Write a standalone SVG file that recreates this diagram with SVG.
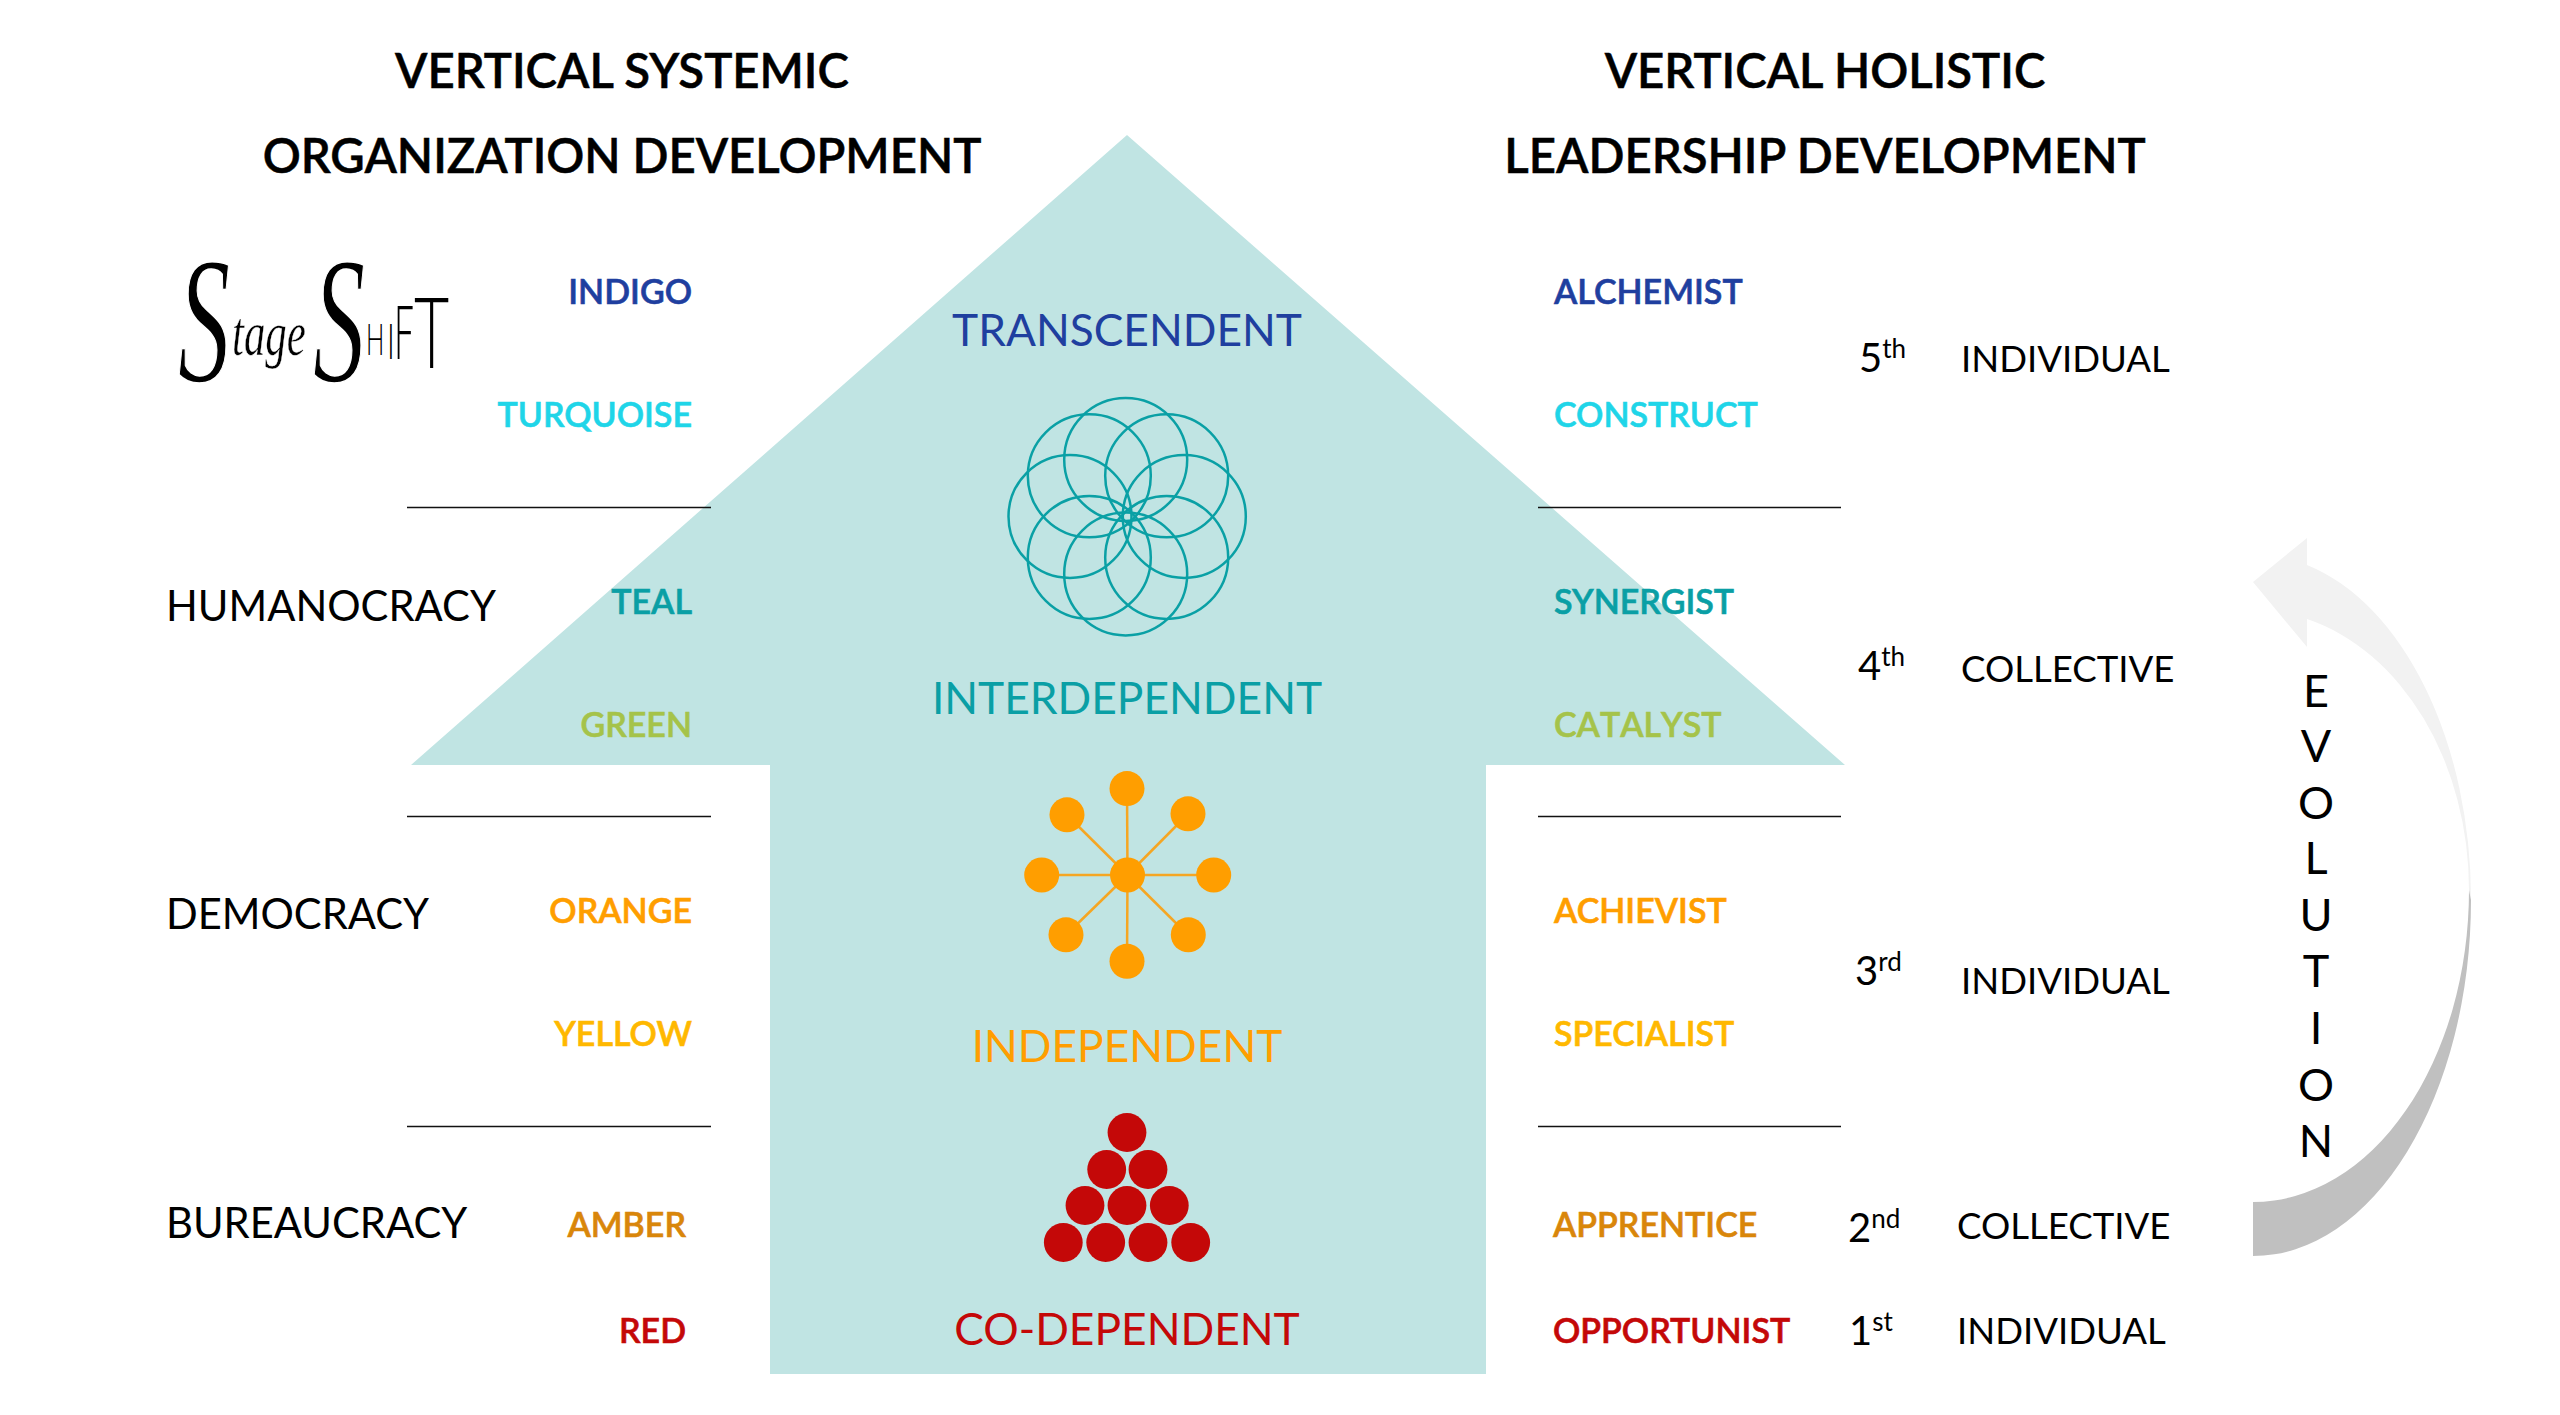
<svg xmlns="http://www.w3.org/2000/svg" width="2560" height="1415" viewBox="0 0 2560 1415">
<style>
text{font-family:Lato,"Liberation Sans",sans-serif}
.t{font-size:47.3px;font-weight:600;fill:#000;stroke:#000;stroke-width:.5px;text-anchor:middle}
.c{font-size:44.3px;text-anchor:middle;stroke-width:0}
.l{font-size:34px;font-weight:600;text-anchor:end;stroke-width:.6px}
.r{font-size:34px;font-weight:600;stroke-width:.6px}
.o{font-size:41.7px;fill:#000}
.k{font-size:36.6px;fill:#000}
.n{font-size:40px;fill:#000}
.n tspan{font-size:26px}
.e{font-size:45px;fill:#000;text-anchor:middle}
.i{fill:#1f3f9f;stroke:#1f3f9f}.u{fill:#1fd5e8;stroke:#1fd5e8}.a{fill:#0a9fa5;stroke:#0a9fa5}.g{fill:#a5c34a;stroke:#a5c34a}.y{fill:#ff9e00;stroke:#ff9e00}.w{fill:#ffb800;stroke:#ffb800}.m{fill:#d9860a;stroke:#d9860a}.d{fill:#c40808;stroke:#c40808}
.rule{stroke:#111;stroke-width:1.5}
.fl circle{fill:none;stroke:#0aa0a5;stroke-width:2.5}
.st line{stroke:#f5a623;stroke-width:2.5}
.st circle{fill:#ff9e00;stroke:none}
.tr circle{fill:#c40808;r:19.4px}
.sw{font-family:"Liberation Serif",serif;font-style:italic;stroke:#fff;stroke-width:1.6px}
.th{font-weight:300;fill:#000}
</style>
<rect width="2560" height="1415" fill="#fff"/>
<g id="house"><polygon points="1127,135 1845,765 1486,765 1486,1374 770,1374 770,765 411,765" fill="#c0e4e3"/></g>
<g id="connectors">
<line class="rule" x1="407" y1="507.5" x2="711" y2="507.5"/><line class="rule" x1="407" y1="816.5" x2="711" y2="816.5"/><line class="rule" x1="407" y1="1126.5" x2="711" y2="1126.5"/>
<line class="rule" x1="1538" y1="507.5" x2="1841" y2="507.5"/><line class="rule" x1="1538" y1="816.5" x2="1841" y2="816.5"/><line class="rule" x1="1538" y1="1126.5" x2="1841" y2="1126.5"/>
</g>
<g id="titles">
<text class="t" x="622" y="88">VERTICAL SYSTEMIC</text><text class="t" x="622" y="173">ORGANIZATION DEVELOPMENT</text>
<text class="t" x="1825" y="88">VERTICAL HOLISTIC</text><text class="t" x="1825" y="173">LEADERSHIP DEVELOPMENT</text>
</g>
<g id="logo">
<text class="sw" transform="translate(178,381) scale(.58,1)" font-size="180">S</text>
<text class="sw" style="stroke-width:.5px" transform="translate(232,355) scale(.67,1)" font-size="64">tage</text>
<text class="sw" transform="translate(313,381) scale(.58,1)" font-size="180">S</text>
<text class="th" transform="translate(366,355) scale(.55,1)" font-size="44">H</text>
<text class="th" transform="translate(387,359) scale(.6,1)" font-size="50">I</text>
<text class="th" transform="translate(394,359) scale(.47,1)" font-size="75">F</text>
<text class="th" transform="translate(414,368) scale(.62,1)" font-size="98">T</text>
</g>
<g id="left-labels">
<text class="l i" x="692" y="304">INDIGO</text><text class="l u" x="692" y="427">TURQUOISE</text>
<text class="l a" x="692" y="614">TEAL</text><text class="l g" x="692" y="737">GREEN</text>
<text class="l y" x="692" y="923">ORANGE</text><text class="l w" x="692" y="1045.5">YELLOW</text>
<text class="l m" x="686" y="1237">AMBER</text><text class="l d" x="686" y="1343">RED</text>
</g>
<g id="org-types">
<text class="o" x="166" y="621">HUMANOCRACY</text><text class="o" x="166" y="929">DEMOCRACY</text><text class="o" x="166" y="1238">BUREAUCRACY</text>
</g>
<g id="center-labels">
<text class="c i" x="1127" y="346">TRANSCENDENT</text>
<text class="c a" x="1127" y="714">INTERDEPENDENT</text>
<text class="c y" x="1127" y="1061.5">INDEPENDENT</text>
<text class="c d" x="1127" y="1345">CO-DEPENDENT</text>
</g>
<g id="flower" class="fl">
<circle cx="1125.7" cy="459.5" r="61.5"/><circle cx="1125.7" cy="574" r="61.5"/><circle cx="1070" cy="516.5" r="61.5"/><circle cx="1184.3" cy="516.5" r="61.5"/>
<circle cx="1089.3" cy="475.8" r="61.5"/><circle cx="1166.7" cy="475.8" r="61.5"/><circle cx="1089.3" cy="557.5" r="61.5"/><circle cx="1166.7" cy="557.5" r="61.5"/>
</g>
<g id="star" class="st">
<line x1="1127.5" y1="875" x2="1127" y2="789"/><line x1="1127.5" y1="875" x2="1214" y2="875"/><line x1="1127.5" y1="875" x2="1042" y2="875"/><line x1="1127.5" y1="875" x2="1127" y2="961"/>
<line x1="1127.5" y1="875" x2="1067" y2="815"/><line x1="1127.5" y1="875" x2="1188" y2="814"/><line x1="1127.5" y1="875" x2="1066" y2="935"/><line x1="1127.5" y1="875" x2="1188" y2="935"/>
<circle cx="1127.5" cy="875" r="17.5"/><circle cx="1127" cy="788.6" r="17.5"/><circle cx="1213.7" cy="875" r="17.5"/><circle cx="1041.7" cy="875" r="17.5"/><circle cx="1127" cy="961.3" r="17.5"/>
<circle cx="1067" cy="814.8" r="17.5"/><circle cx="1188" cy="813.8" r="17.5"/><circle cx="1066" cy="934.8" r="17.5"/><circle cx="1188.3" cy="934.8" r="17.5"/>
</g>
<g id="triangle" class="tr">
<circle cx="1127" cy="1132.5"/><circle cx="1106.7" cy="1169.5"/><circle cx="1148" cy="1169.5"/>
<circle cx="1085" cy="1205.5"/><circle cx="1127" cy="1205.5"/><circle cx="1169.3" cy="1205.5"/>
<circle cx="1063.3" cy="1242.5"/><circle cx="1105.7" cy="1242.5"/><circle cx="1148" cy="1242.5"/><circle cx="1190.7" cy="1242.5"/>
</g>
<g id="right-labels">
<text class="r i" x="1554" y="304">ALCHEMIST</text><text class="r u" x="1554" y="427">CONSTRUCT</text>
<text class="r a" x="1554" y="614">SYNERGIST</text><text class="r g" x="1554" y="737" style="font-kerning:none">CATALYST</text>
<text class="r y" x="1554" y="923">ACHIEVIST</text><text class="r w" x="1554" y="1045.5">SPECIALIST</text>
<text class="r m" x="1553" y="1237">APPRENTICE</text><text class="r d" x="1553" y="1343">OPPORTUNIST</text>
</g>
<g id="stages">
<text class="n" x="1859" y="372">5<tspan dy="-14">th</tspan></text><text class="k" x="1961" y="372">INDIVIDUAL</text>
<text class="n" x="1858" y="680">4<tspan dy="-14">th</tspan></text><text class="k" x="1961" y="682">COLLECTIVE</text>
<text class="n" x="1855" y="985">3<tspan dy="-14">rd</tspan></text><text class="k" x="1961" y="994">INDIVIDUAL</text>
<text class="n" x="1848" y="1242">2<tspan dy="-14">nd</tspan></text><text class="k" x="1957" y="1239">COLLECTIVE</text>
<text class="n" x="1849" y="1345">1<tspan dy="-14">st</tspan></text><text class="k" x="1957" y="1344">INDIVIDUAL</text>
</g>
<g id="evolution-arrow">
<path d="M2253,582 L2307,538 L2307,565 A218,345 0 0 1 2471,900 L2469,890 A216,280 0 0 0 2307,619 L2307,647 Z" fill="#f2f2f2"/>
<path d="M2469,890 A216,312 0 0 1 2253,1202 L2253,1256 A218,356 0 0 0 2471,900 Z" fill="#c0c0c0"/>
</g>
<g id="evolution">
<text class="e" x="2316" y="707">E</text><text class="e" x="2316" y="762">V</text><text class="e" x="2316" y="819">O</text><text class="e" x="2316" y="874">L</text><text class="e" x="2316" y="931">U</text><text class="e" x="2316" y="987">T</text><text class="e" x="2316" y="1044">I</text><text class="e" x="2316" y="1101">O</text><text class="e" x="2316" y="1157">N</text>
</g>
</svg>
